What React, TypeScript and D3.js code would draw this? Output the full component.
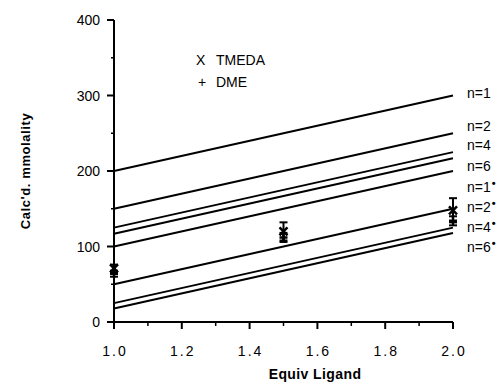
import React, { useEffect, useRef } from "react";
import * as d3 from "d3";

// model lines: calc'd mmolality at 1.0 and 2.0 equiv ligand
const lineNames = ["n=1", "n=2", "n=4", "n=6", "n=1", "n=2", "n=4", "n=6"];
const lineStarred = [false, false, false, false, true, true, true, true];
const lineAt1 = [200, 150, 125, 117, 100, 50, 25, 18];
const lineAt2 = [300, 250, 225, 217, 200, 150, 125, 118];
// label levels in data units (labels are spread out to avoid overlap)
const labelLevels = [303, 260, 234, 206, 179, 152, 126, 100];

// measured points
const equiv = [1.0, 1.5, 2.0];
const tmeda = [71, 120, 148];
const tmedaErr = [5, 12, 16];
const dme = [64, 112, 134];
const dmeErr = [4, 6, 6];

const xTicks = [1.0, 1.2, 1.4, 1.6, 1.8, 2.0];
const xMinor = [1.1, 1.3, 1.5, 1.7, 1.9];
const yTicks = [0, 100, 200, 300, 400];
const yMinor = [50, 150, 250, 350];

const W = 502;
const H = 382;

export default function App() {
  const ref = useRef<SVGSVGElement>(null);

  useEffect(() => {
    const svg = d3.select(ref.current);
    svg.selectAll("*").remove();
    const font = "'Liberation Sans', Arial, Helvetica, sans-serif";

    const x = d3.scaleLinear().domain([1, 2]).range([114, 453]);
    const y = d3.scaleLinear().domain([0, 400]).range([322, 20]);

    // axes
    const ax = svg.append("g").attr("stroke", "#000").attr("stroke-width", 2);
    ax.append("line")
      .attr("x1", x(1)).attr("x2", x(1))
      .attr("y1", y(400)).attr("y2", y(0) + 7);
    ax.append("line")
      .attr("x1", x(1) - 7).attr("x2", x(2))
      .attr("y1", y(0)).attr("y2", y(0));

    yTicks.forEach(t => {
      ax.append("line")
        .attr("x1", x(1) - 7).attr("x2", x(1))
        .attr("y1", y(t)).attr("y2", y(t));
    });
    yMinor.forEach(t => {
      ax.append("line")
        .attr("x1", x(1) - 3).attr("x2", x(1))
        .attr("y1", y(t)).attr("y2", y(t))
        .attr("stroke-width", 1.5);
    });
    xTicks.forEach(t => {
      ax.append("line")
        .attr("x1", x(t)).attr("x2", x(t))
        .attr("y1", y(0)).attr("y2", y(0) + 7);
    });
    xMinor.forEach(t => {
      ax.append("line")
        .attr("x1", x(t)).attr("x2", x(t))
        .attr("y1", y(0)).attr("y2", y(0) + 4)
        .attr("stroke-width", 1.5);
    });

    // tick labels
    svg.append("g")
      .selectAll("text")
      .data(yTicks)
      .enter()
      .append("text")
      .attr("x", x(1) - 14)
      .attr("y", d => y(d) + 5)
      .attr("text-anchor", "end")
      .style("font-family", font)
      .style("font-size", "14px")
      .text(d => d);

    svg.append("g")
      .selectAll("text")
      .data(xTicks)
      .enter()
      .append("text")
      .attr("x", d => x(d) + 1)
      .attr("y", 356)
      .attr("text-anchor", "middle")
      .style("font-family", font)
      .style("font-size", "14px")
      .style("letter-spacing", "2px")
      .text(d => d.toFixed(1));

    // axis titles
    svg.append("text")
      .attr("transform", `translate(30,${(y(0) + y(400)) / 2}) rotate(-90)`)
      .attr("text-anchor", "middle")
      .style("font-family", font)
      .style("font-size", "13px")
      .style("font-weight", "bold")
      .style("letter-spacing", "0.6px")
      .text("Calc'd. mmolality");

    svg.append("text")
      .attr("x", 315)
      .attr("y", 379)
      .attr("text-anchor", "middle")
      .style("font-family", font)
      .style("font-size", "14px")
      .style("font-weight", "bold")
      .style("letter-spacing", "0.4px")
      .text("Equiv Ligand");

    // model lines
    const lines = svg.append("g").attr("stroke", "#000").attr("stroke-width", 2);
    lineAt1.forEach((v, i) => {
      lines.append("line")
        .attr("x1", x(1)).attr("y1", y(v))
        .attr("x2", x(2)).attr("y2", y(lineAt2[i]));
    });

    const labels = svg.append("g");
    lineNames.forEach((name, i) => {
      const t = labels.append("text")
        .attr("x", 467)
        .attr("y", y(labelLevels[i]) + 5)
        .style("font-family", font)
        .style("font-size", "14px")
        .text(name);
      if (lineStarred[i]) {
        t.append("tspan")
          .attr("dy", -5)
          .attr("dx", 1)
          .style("font-size", "11px")
          .style("font-weight", "bold")
          .text("•");
      }
    });

    // error bars + markers
    const pts = svg.append("g").attr("stroke", "#000").attr("stroke-width", 2);
    const errBar = (xv: number, v: number, e: number) => {
      const cx = x(xv);
      pts.append("line").attr("x1", cx).attr("x2", cx).attr("y1", y(v - e)).attr("y2", y(v + e));
      pts.append("line").attr("x1", cx - 4).attr("x2", cx + 4).attr("y1", y(v + e)).attr("y2", y(v + e));
      pts.append("line").attr("x1", cx - 4).attr("x2", cx + 4).attr("y1", y(v - e)).attr("y2", y(v - e));
    };
    equiv.forEach((xv, i) => {
      errBar(xv, tmeda[i], tmedaErr[i]);
      errBar(xv, dme[i], dmeErr[i]);
    });
    equiv.forEach((xv, i) => {
      const cx = x(xv);
      const cy = y(tmeda[i]);
      pts.append("path")
        .attr("d", `M${cx - 4},${cy - 4}L${cx + 4},${cy + 4}M${cx - 4},${cy + 4}L${cx + 4},${cy - 4}`)
        .attr("stroke-width", 2.5);
      const dy = y(dme[i]);
      pts.append("path")
        .attr("d", `M${cx - 4},${dy}L${cx + 4},${dy}M${cx},${dy - 4}L${cx},${dy + 4}`)
        .attr("stroke-width", 2.5);
    });

    // legend
    const lg = svg.append("g").style("font-family", font).style("font-size", "14px");
    lg.append("text").attr("x", 196).attr("y", 65).text("X");
    lg.append("text").attr("x", 216).attr("y", 65).text("TMEDA");
    lg.append("text").attr("x", 198).attr("y", 87).text("+");
    lg.append("text").attr("x", 216).attr("y", 87).text("DME");
  }, []);

  return (
    <svg
      ref={ref}
      width={W}
      height={H}
      style={{ position: "absolute", left: 0, top: 0, background: "#fff" }}
    />
  );
}
